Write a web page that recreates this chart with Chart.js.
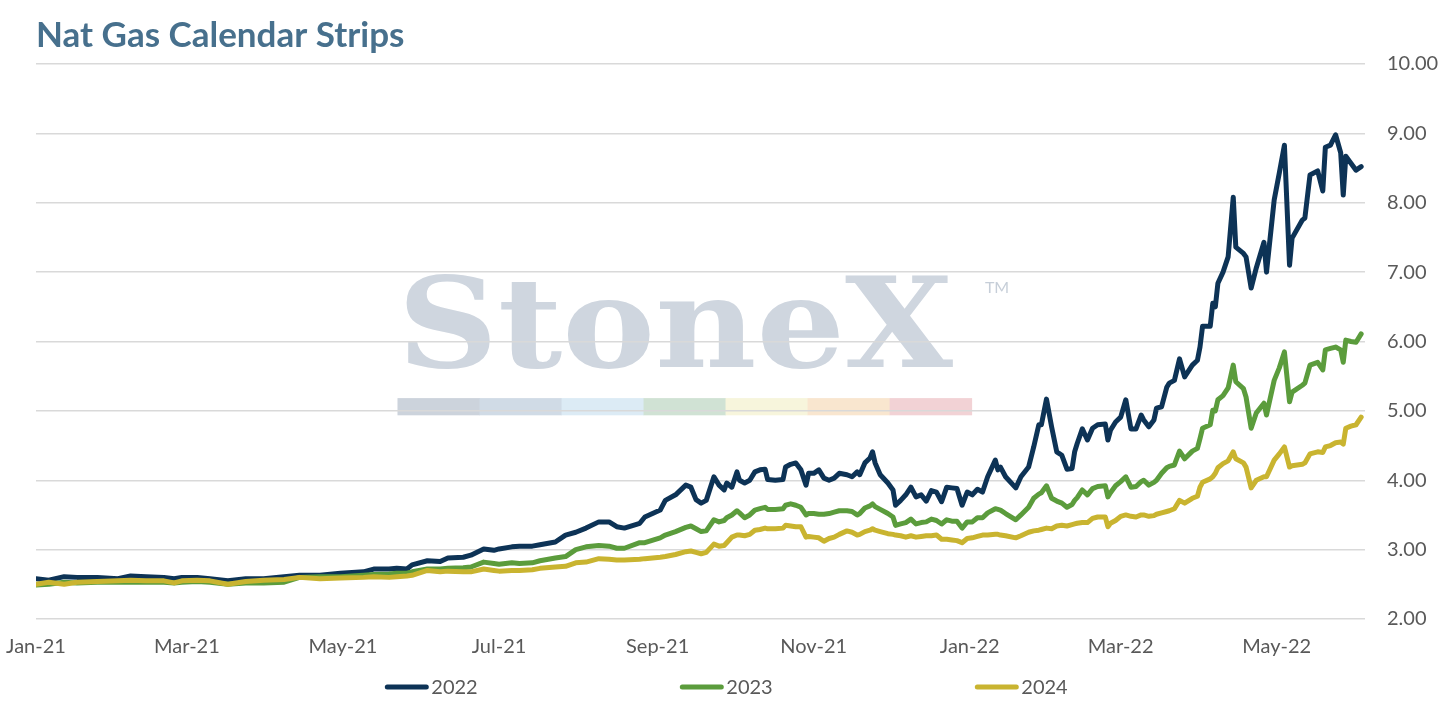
<!DOCTYPE html>
<html>
<head>
<meta charset="utf-8">
<title>Nat Gas Calendar Strips</title>
<script src="https://cdn.jsdelivr.net/npm/chart.js@4.4.1/dist/chart.umd.min.js"></script>
<style>
  html, body { margin: 0; padding: 0; background: #fff; }
  #wrap { width: 1443px; height: 708px; }
</style>
</head>
<body>
<div id="wrap"><canvas id="stripChart"></canvas></div>
<script>
// x values are days since 1 Jan 2021
const days = [
    0, 5, 11, 16, 24, 32, 37, 43, 50, 54,
    57, 63, 68, 75, 82, 89, 97, 103, 111, 119,
    128, 132, 138, 141, 145, 147, 153, 158, 161, 167,
    170, 175, 179, 181, 186, 189, 194, 197, 203, 207,
    211, 215, 220, 224, 227, 230, 236, 238, 244, 246,
    250, 254, 256, 258, 260, 262, 265, 267, 269, 270,
    272, 274, 275, 277, 279, 281, 283, 285, 286, 289,
    292, 293, 295, 297, 299, 301, 302, 304, 306, 308,
    310, 312, 314, 317, 319, 321, 322, 324, 326, 327,
    328, 330, 333, 335, 336, 338, 340, 342, 344, 346,
    348, 350, 352, 354, 356, 358, 360, 362, 364, 366,
    368, 370, 372, 375, 376, 377, 379, 383, 385, 388,
    390, 392, 393, 395, 397, 399, 401, 403, 405, 406,
    407, 409, 411, 413, 415, 418, 419, 420, 422, 424,
    426, 428, 430, 432, 433, 435, 437, 438, 440, 442,
    443, 445, 447, 449, 452, 454, 455, 456, 459, 460,
    461, 462, 464, 466, 468, 469, 472, 473, 475, 477,
    480, 481, 484, 486, 488, 490, 491, 495, 496, 498,
    501, 503, 504, 506, 508, 510, 511, 512, 514, 516,
    518
];

const strip2022 = [
    2.58, 2.56, 2.61, 2.60, 2.60, 2.58, 2.62, 2.61, 2.60, 2.58,
    2.60, 2.60, 2.58, 2.55, 2.58, 2.58, 2.61, 2.63, 2.63, 2.66,
    2.68, 2.72, 2.72, 2.73, 2.72, 2.78, 2.84, 2.83, 2.88, 2.89,
    2.92, 3.01, 2.99, 3.01, 3.04, 3.05, 3.05, 3.07, 3.11, 3.21,
    3.25, 3.31, 3.40, 3.40, 3.33, 3.31, 3.38, 3.47, 3.57, 3.71,
    3.79, 3.93, 3.90, 3.72, 3.67, 3.71, 4.05, 3.93, 3.86, 3.96,
    3.90, 4.12, 4.00, 3.96, 4.00, 4.12, 4.15, 4.16, 4.01, 4.00,
    4.01, 4.19, 4.23, 4.25, 4.15, 3.93, 4.10, 4.10, 4.15, 4.03,
    4.00, 4.03, 4.10, 4.08, 4.05, 4.12, 4.08, 4.25, 4.32, 4.41,
    4.25, 4.08, 3.96, 3.86, 3.64, 3.71, 3.79, 3.90, 3.76, 3.79,
    3.70, 3.85, 3.83, 3.69, 3.90, 3.89, 3.88, 3.64, 3.83, 3.79,
    3.87, 3.83, 4.05, 4.29, 4.15, 4.19, 4.05, 3.89, 4.05, 4.19,
    4.48, 4.80, 4.80, 5.17, 4.77, 4.41, 4.36, 4.16, 4.17, 4.41,
    4.53, 4.74, 4.58, 4.75, 4.80, 4.81, 4.58, 4.72, 4.84, 4.91,
    5.16, 4.74, 4.74, 4.94, 4.87, 4.77, 4.87, 5.04, 5.06, 5.34,
    5.40, 5.44, 5.75, 5.49, 5.66, 5.73, 5.92, 6.22, 6.22, 6.55,
    6.50, 6.84, 7.00, 7.22, 8.08, 7.36, 7.27, 7.22, 6.77, 7.06,
    7.43, 7.00, 8.04, 8.43, 8.83, 7.10, 7.49, 7.75, 7.78, 8.40,
    8.46, 8.17, 8.80, 8.83, 8.98, 8.72, 8.11, 8.67, 8.57, 8.47,
    8.52
];

const strip2023 = [
    2.49, 2.50, 2.53, 2.52, 2.53, 2.53, 2.53, 2.53, 2.53, 2.52,
    2.53, 2.54, 2.53, 2.50, 2.52, 2.52, 2.53, 2.60, 2.61, 2.61,
    2.63, 2.64, 2.65, 2.66, 2.66, 2.68, 2.72, 2.72, 2.73, 2.74,
    2.75, 2.82, 2.80, 2.79, 2.81, 2.80, 2.81, 2.84, 2.88, 2.90,
    3.00, 3.04, 3.06, 3.05, 3.02, 3.02, 3.10, 3.10, 3.17, 3.21,
    3.26, 3.32, 3.34, 3.30, 3.26, 3.27, 3.43, 3.40, 3.42, 3.46,
    3.50, 3.56, 3.53, 3.46, 3.50, 3.57, 3.59, 3.61, 3.58, 3.58,
    3.59, 3.64, 3.66, 3.64, 3.61, 3.50, 3.52, 3.52, 3.51, 3.51,
    3.52, 3.54, 3.56, 3.56, 3.55, 3.50, 3.52, 3.60, 3.63, 3.66,
    3.62, 3.58, 3.52, 3.47, 3.35, 3.37, 3.39, 3.44, 3.37, 3.39,
    3.40, 3.44, 3.42, 3.37, 3.43, 3.41, 3.41, 3.31, 3.40, 3.40,
    3.46, 3.46, 3.53, 3.59, 3.58, 3.57, 3.52, 3.43, 3.50, 3.61,
    3.74, 3.80, 3.82, 3.92, 3.74, 3.70, 3.67, 3.61, 3.65, 3.71,
    3.75, 3.86, 3.79, 3.88, 3.91, 3.92, 3.76, 3.82, 3.92, 3.98,
    4.05, 3.90, 3.91, 3.98, 4.00, 3.93, 3.97, 4.00, 4.10, 4.18,
    4.20, 4.22, 4.42, 4.31, 4.42, 4.46, 4.60, 4.75, 4.80, 5.01,
    5.00, 5.16, 5.22, 5.33, 5.66, 5.42, 5.32, 5.20, 4.75, 4.97,
    5.11, 4.94, 5.44, 5.62, 5.85, 5.13, 5.27, 5.37, 5.40, 5.66,
    5.70, 5.59, 5.88, 5.90, 5.92, 5.88, 5.70, 6.02, 6.00, 5.99,
    6.11
];

const strip2024 = [
    2.50, 2.53, 2.50, 2.53, 2.54, 2.55, 2.56, 2.55, 2.55, 2.52,
    2.55, 2.56, 2.55, 2.50, 2.54, 2.56, 2.57, 2.60, 2.58, 2.59,
    2.60, 2.61, 2.60, 2.61, 2.62, 2.63, 2.70, 2.68, 2.69, 2.68,
    2.68, 2.72, 2.70, 2.69, 2.70, 2.70, 2.71, 2.73, 2.75, 2.76,
    2.81, 2.82, 2.87, 2.86, 2.85, 2.85, 2.86, 2.87, 2.89, 2.90,
    2.93, 2.97, 2.98, 2.96, 2.94, 2.96, 3.08, 3.05, 3.06, 3.10,
    3.18, 3.21, 3.21, 3.20, 3.22, 3.28, 3.29, 3.31, 3.30, 3.30,
    3.31, 3.35, 3.34, 3.33, 3.33, 3.18, 3.19, 3.18, 3.17, 3.12,
    3.16, 3.18, 3.22, 3.27, 3.25, 3.21, 3.22, 3.26, 3.28, 3.30,
    3.28, 3.26, 3.23, 3.22, 3.21, 3.20, 3.18, 3.20, 3.18, 3.19,
    3.20, 3.20, 3.21, 3.15, 3.15, 3.14, 3.13, 3.10, 3.16, 3.17,
    3.19, 3.21, 3.21, 3.22, 3.22, 3.21, 3.20, 3.17, 3.20, 3.25,
    3.27, 3.28, 3.29, 3.31, 3.30, 3.34, 3.35, 3.34, 3.36, 3.37,
    3.38, 3.39, 3.39, 3.45, 3.47, 3.47, 3.33, 3.38, 3.42, 3.48,
    3.50, 3.48, 3.47, 3.50, 3.50, 3.48, 3.49, 3.51, 3.53, 3.55,
    3.56, 3.59, 3.71, 3.67, 3.74, 3.77, 3.90, 3.97, 4.02, 4.05,
    4.10, 4.18, 4.24, 4.28, 4.41, 4.31, 4.25, 4.19, 3.89, 4.00,
    4.05, 4.05, 4.29, 4.38, 4.48, 4.19, 4.21, 4.23, 4.25, 4.38,
    4.41, 4.40, 4.48, 4.50, 4.54, 4.55, 4.52, 4.75, 4.78, 4.80,
    4.91
];

// month starts used as x-axis ticks
const tickDays = [0, 59, 120, 181, 243, 304, 365, 424, 485];
const tickLabels = ['Jan-21', 'Mar-21', 'May-21', 'Jul-21', 'Sep-21', 'Nov-21', 'Jan-22', 'Mar-22', 'May-22'];

const seriesNames = ['2022', '2023', '2024'];
const seriesColors = ['#0d3356', '#5b9c3c', '#c9b430'];

const logoBands = ['#ccd3dc', '#d0dbe6', '#dcebf5', '#d0e2d4', '#f7f5dc', '#f9e6cf', '#f2d2d5'];

const textColor = '#595959';
const baseFont = 'Lato, "Noto Sans", sans-serif';

function toPoints(values) {
    return days.map((d, i) => ({ x: d, y: values[i] }));
}

// faint StoneX mark behind the grid
const watermark = {
    id: 'watermark',
    beforeDraw(chart) {
        const { ctx, chartArea: a } = chart;
        const w = a.right - a.left;
        const h = a.bottom - a.top;
        const x0 = a.left + w * 0.272;
        const x1 = a.left + w * 0.690;

        ctx.save();
        ctx.font = 'bold 125px "DejaVu Serif", serif';
        ctx.fillStyle = '#cfd6df';
        ctx.textBaseline = 'alphabetic';
        const tw = ctx.measureText('StoneX').width;
        ctx.translate(x0, a.top + h * 0.546);
        ctx.scale((x1 - x0) / tw, 1);
        ctx.fillText('StoneX', 0, 0);
        ctx.restore();

        ctx.save();
        ctx.font = '16px ' + baseFont;
        ctx.fillStyle = '#c6ced8';
        ctx.fillText('TM', a.left + w * 0.714, a.top + h * 0.413);

        const bx0 = a.left + w * 0.272;
        const bx1 = a.left + w * 0.704;
        const bw = (bx1 - bx0) / logoBands.length;
        logoBands.forEach((c, i) => {
            ctx.fillStyle = c;
            ctx.fillRect(bx0 + i * bw, a.top + h * 0.602, bw + 0.5, h * 0.031);
        });
        ctx.restore();
    }
};

// legend spread along the bottom like the original
const bottomLegend = {
    id: 'bottomLegend',
    afterDraw(chart) {
        const { ctx, width } = chart;
        const sets = chart.data.datasets;
        const pitch = 295, lineLen = 43, gap = 3;
        ctx.save();
        ctx.font = '20px ' + baseFont;
        const lastW = lineLen + gap + ctx.measureText(sets[sets.length - 1].label).width;
        let x = width / 2 + 5 - ((sets.length - 1) * pitch + lastW) / 2;
        const y = chart.chartArea.bottom + 68;
        sets.forEach((ds) => {
            ctx.strokeStyle = ds.borderColor;
            ctx.lineWidth = 5;
            ctx.lineCap = 'round';
            ctx.beginPath();
            ctx.moveTo(x + 2, y);
            ctx.lineTo(x + lineLen - 2, y);
            ctx.stroke();
            ctx.fillStyle = textColor;
            ctx.textBaseline = 'middle';
            ctx.textAlign = 'left';
            ctx.fillText(ds.label, x + lineLen + gap, y + 1);
            x += pitch;
        });
        ctx.restore();
    }
};

const ctx = document.getElementById('stripChart').getContext('2d');
new Chart(ctx, {
    type: 'line',
    data: {
        datasets: [
            { label: seriesNames[0], data: toPoints(strip2022), borderColor: seriesColors[0], order: 3 },
            { label: seriesNames[1], data: toPoints(strip2023), borderColor: seriesColors[1], order: 2 },
            { label: seriesNames[2], data: toPoints(strip2024), borderColor: seriesColors[2], order: 1 },
        ]
    },
    options: {
        responsive: true,
        maintainAspectRatio: false,
        animation: false,
        elements: {
            point: { radius: 0 },
            line: { borderWidth: 5, tension: 0, borderJoinStyle: 'round', borderCapStyle: 'round', fill: false },
        },
        layout: { padding: { left: 36, right: 0, top: 0, bottom: 0 } },
        plugins: {
            legend: { display: false },
            tooltip: { enabled: false },
            title: {
                display: true,
                text: 'Nat Gas Calendar Strips',
                align: 'start',
                color: '#47708d',
                font: { family: baseFont, size: 35, weight: 'bold' },
                padding: { top: 14.5, bottom: 7.5 },
            },
        },
        scales: {
            x: {
                type: 'linear',
                min: 0,
                max: 519.5,
                // grid lines hidden; tick length only spaces the labels down
                grid: { display: false, drawTicks: true, tickLength: 14 },
                border: { display: false },
                afterBuildTicks: (scale) => {
                    scale.ticks = tickDays.map(v => ({ value: v }));
                },
                afterFit: (scale) => { scale.height = 89; },
                ticks: {
                    autoSkip: false,
                    maxRotation: 0,
                    padding: 2,
                    color: textColor,
                    font: { family: baseFont, size: 20 },
                    callback: (v) => tickLabels[tickDays.indexOf(v)],
                },
            },
            y: {
                position: 'right',
                min: 2,
                max: 10,
                grid: { color: '#d9d9d9', lineWidth: 1.5, drawTicks: false },
                border: { display: false },
                afterFit: (scale) => { scale.width = 78; },
                ticks: {
                    stepSize: 1,
                    padding: 22,
                    color: textColor,
                    font: { family: baseFont, size: 20 },
                    callback: (v) => v.toFixed(2),
                },
            },
        },
    },
    plugins: [watermark, bottomLegend],
});
</script>
</body>
</html>
